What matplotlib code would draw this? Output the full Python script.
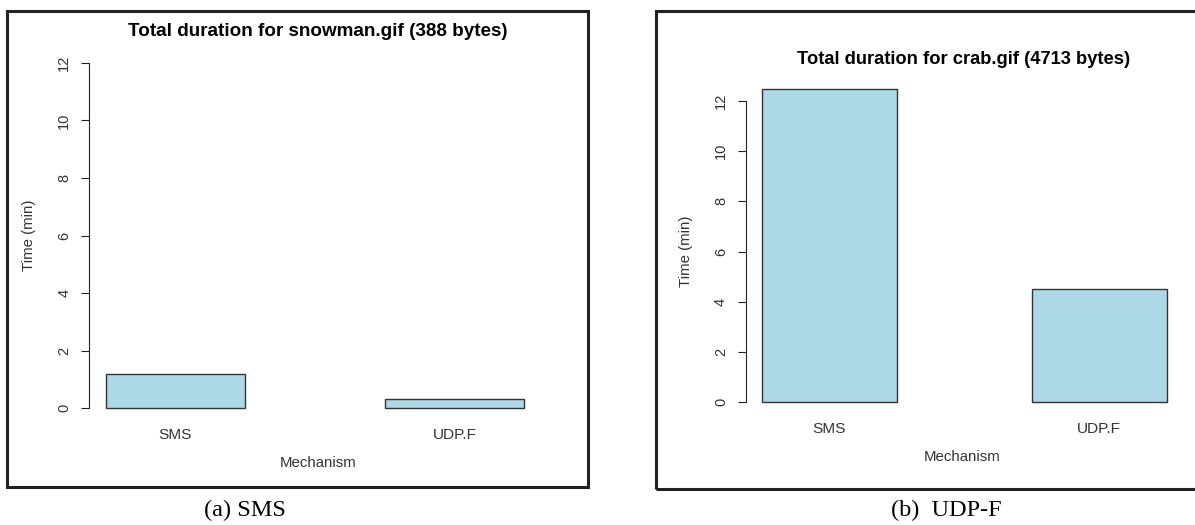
import matplotlib
matplotlib.use("Agg")
import matplotlib.pyplot as plt
from matplotlib.patches import Rectangle

# Total transfer time (minutes) per mechanism for two image files
mechanisms = ["SMS", "UDP.F"]
snowman_minutes = [1.2, 0.33]
crab_minutes = [12.5, 4.5]
y_ticks = [0, 2, 4, 6, 8, 10, 12]

snowman_title = "Total duration for snowman.gif (388 bytes)"
crab_title = "Total duration for crab.gif (4713 bytes)"
captions = ["(a) SMS", "(b)  UDP-F"]

W, H = 1195, 525
fig = plt.figure(figsize=(W / 100, H / 100), dpi=100)
fig.patch.set_facecolor("white")

SANS = ["Liberation Sans", "DejaVu Sans"]
SERIF = ["Liberation Serif", "DejaVu Serif"]
TXT = "#333333"
LINE = "#222222"


def fx(x):
    return x / W


def fy(y):
    return 1 - y / H


def axes_px(x0, x1, ytop, ybot):
    return fig.add_axes([fx(x0), fy(ybot), (x1 - x0) / W, (ybot - ytop) / H])


def bar_panel(ax, values, ylim, title, title_size, title_xy, ylab_xy,
              xlab_xy, xpad):
    positions = list(range(len(mechanisms)))
    ax.bar(positions, values, width=0.5, color="#ADD8E6",
           edgecolor="#333333", linewidth=1.0)
    ax.set_xlim(-0.31, 1.31)
    ax.set_ylim(*ylim)
    for side in ("top", "right", "bottom"):
        ax.spines[side].set_visible(False)
    ax.spines["left"].set_bounds(y_ticks[0], y_ticks[-1])
    ax.spines["left"].set_color(LINE)
    ax.spines["left"].set_linewidth(0.8)
    ax.set_yticks(y_ticks)
    ax.set_yticklabels([str(t) for t in y_ticks], rotation=90,
                       va="center", ha="right", family=SANS,
                       fontsize=10.5, color=TXT)
    ax.tick_params(axis="y", direction="out", length=5.8, width=0.8,
                   color=LINE, pad=7)
    ax.set_xticks(positions)
    ax.set_xticklabels(mechanisms, family=SANS, fontsize=11.1, color=TXT)
    ax.tick_params(axis="x", length=0, pad=xpad)
    ax.set_xlabel("Mechanism", family=SANS, fontsize=10.8, color=TXT)
    ax.xaxis.set_label_coords(fx(xlab_xy[0]), fy(xlab_xy[1]),
                              transform=fig.transFigure)
    ax.xaxis.label.set_va("center")
    ax.set_ylabel("Time (min)", family=SANS, fontsize=10.8, color=TXT)
    ax.yaxis.set_label_coords(fx(ylab_xy[0]), fy(ylab_xy[1]),
                              transform=fig.transFigure)
    ax.yaxis.label.set_va("center")
    fig.text(fx(title_xy[0]), fy(title_xy[1]), title, family=SANS,
             fontsize=title_size, fontweight="bold", color="black",
             ha="center", va="center")


ax1 = axes_px(89, 541, 49, 422)
bar_panel(ax1, snowman_minutes, (-0.48, 12.48), snowman_title, 13.6,
          (318, 32), (29, 235), (318, 463), 4.5)

ax2 = axes_px(745.8, 1183, 76, 414.5)
bar_panel(ax2, crab_minutes, (-0.5, 13.0), crab_title, 13.2,
          (964, 60), (686, 251), (962, 457), 5.5)

# Panel frames
fig.add_artist(Rectangle((fx(7), fy(487)), (588 - 7) / W, (487 - 11) / H,
                         transform=fig.transFigure, fill=False,
                         linewidth=2.2, edgecolor=LINE))
fig.add_artist(Rectangle((fx(656), fy(489)), (1215 - 656) / W, (489 - 11) / H,
                         transform=fig.transFigure, fill=False,
                         linewidth=2.2, edgecolor=LINE))

# Sub-figure captions
fig.text(fx(245), fy(510), captions[0], family=SERIF, fontsize=17.5,
         ha="center", va="center", color="black")
fig.text(fx(946), fy(510), captions[1], family=SERIF, fontsize=17.5,
         ha="center", va="center", color="black")

fig.savefig("out.png", dpi=100, facecolor="white")
